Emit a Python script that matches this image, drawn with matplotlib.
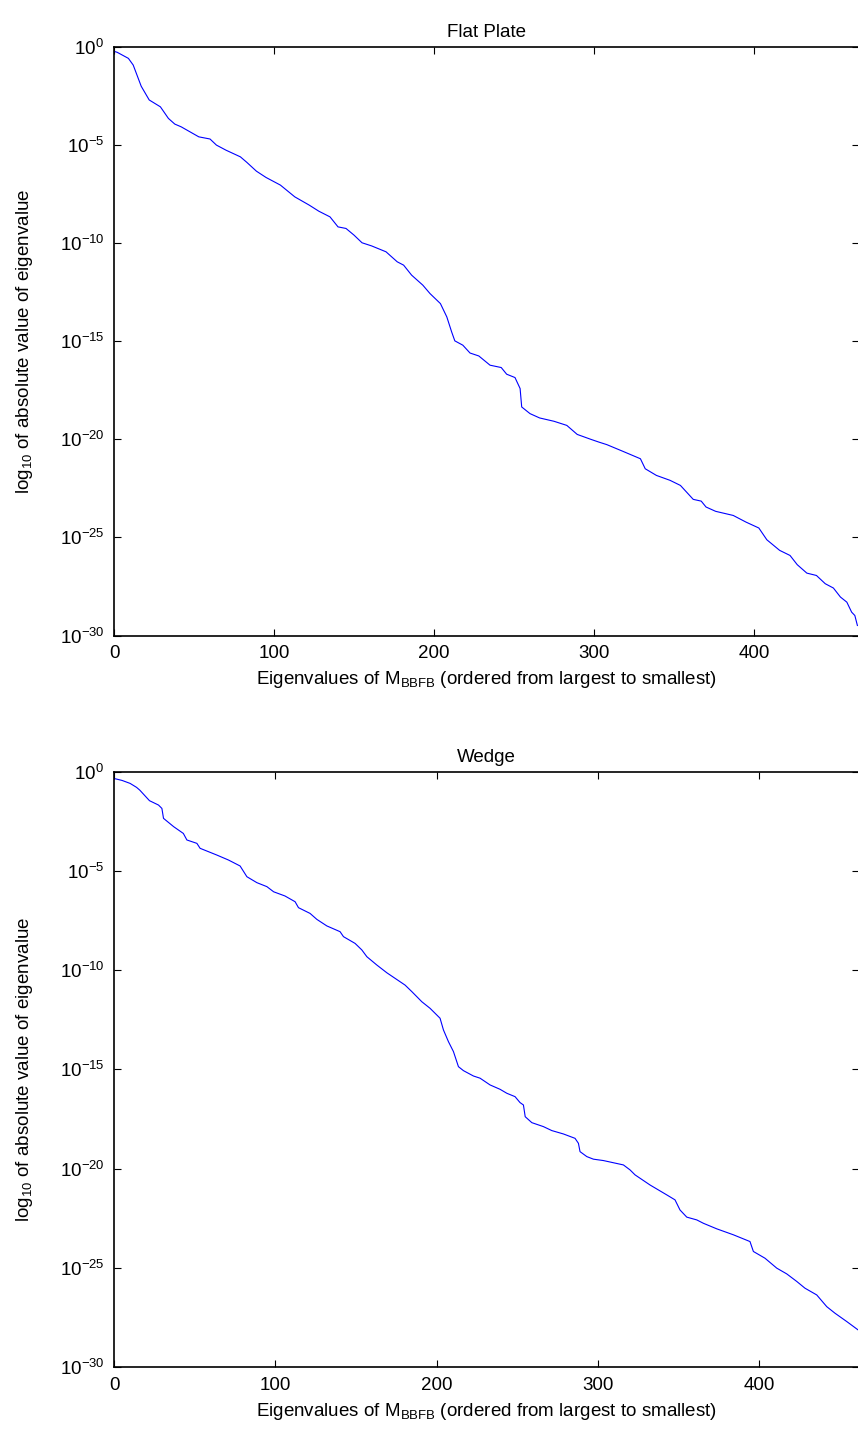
import numpy as np
import matplotlib
matplotlib.use("Agg")
import matplotlib.pyplot as plt
from matplotlib.ticker import FixedLocator, NullLocator, LogFormatterMathtext

plt.rcParams['font.family'] = ['Liberation Sans', 'DejaVu Sans']
plt.rcParams['mathtext.fontset'] = 'custom'
plt.rcParams['mathtext.rm'] = 'Liberation Sans'
plt.rcParams['mathtext.it'] = 'Liberation Sans'
plt.rcParams['mathtext.default'] = 'regular'

# eigenvalue index vs log10 |eigenvalue|, flat plate case
flat_idx = [0, 2, 9, 12, 17, 22, 29, 34, 38, 42, 53, 60, 64, 70, 79, 83, 89, 95,
            104, 113, 122, 128, 135, 140, 145, 150, 155, 161, 170, 177, 181, 186,
            193, 197.5, 204, 208, 211, 213, 218, 222.5, 228, 235, 242, 245.4, 250.6,
            253.8, 254.8, 260, 266, 275, 283, 289.5, 298, 303, 308, 318, 329, 332,
            339, 347.5, 354, 362, 367, 370, 376, 387, 395, 403, 408, 416, 422.5,
            427, 433, 439, 444.5, 449.6, 454, 458, 461, 463, 464.6]
flat_log = [-0.22, -0.27, -0.58, -0.92, -2.0, -2.7, -3.05, -3.64, -3.93, -4.07,
            -4.58, -4.69, -5.0, -5.26, -5.6, -5.88, -6.33, -6.65, -7.04, -7.64,
            -8.06, -8.37, -8.66, -9.17, -9.25, -9.59, -9.98, -10.14, -10.44,
            -10.95, -11.12, -11.63, -12.14, -12.57, -13.08, -13.76, -14.52,
            -14.98, -15.2, -15.6, -15.75, -16.22, -16.34, -16.68, -16.85, -17.41,
            -18.35, -18.69, -18.91, -19.08, -19.29, -19.75, -20.0, -20.14, -20.27,
            -20.61, -20.99, -21.5, -21.84, -22.09, -22.35, -23.06, -23.15, -23.45,
            -23.67, -23.88, -24.22, -24.52, -25.12, -25.66, -25.92, -26.39, -26.82,
            -26.94, -27.36, -27.58, -28.04, -28.3, -28.81, -28.98, -29.49]

# wedge case
wedge_idx = [0, 5, 10, 14, 16, 22, 27.6, 29.7, 30.7, 37, 43, 45.2, 51.4, 53.4, 58.6,
             63.8, 71, 78.2, 82.4, 88.6, 94.8, 99, 106, 112.3, 114.4, 121.6, 125.8,
             132, 140.2, 142.3, 149.5, 153.7, 156.8, 163, 169.2, 174.3, 180.5, 184.7,
             190.9, 196, 202.2, 204.3, 207.4, 210.5, 213.6, 216.7, 222.9, 227, 233.2,
             239.4, 243.6, 248.7, 251.8, 253.9, 255, 259.1, 266.3, 271.5, 278.7,
             285.9, 288, 289, 293.2, 297.3, 303.5, 315.9, 320, 323.1, 332.4, 342.8,
             347.9, 351, 355.2, 361.4, 365.5, 373.8, 384.1, 394.4, 396.5, 403.7, 411,
             417.2, 423.4, 428.5, 435.8, 442, 447.1, 454.4, 461.4]
wedge_log = [-0.35, -0.45, -0.6, -0.8, -0.94, -1.47, -1.69, -1.86, -2.36, -2.78,
             -3.12, -3.45, -3.62, -3.87, -4.04, -4.21, -4.46, -4.76, -5.3, -5.6,
             -5.8, -6.06, -6.27, -6.56, -6.86, -7.15, -7.45, -7.78, -8.07, -8.32,
             -8.66, -8.99, -9.33, -9.75, -10.14, -10.42, -10.76, -11.09, -11.6,
             -11.93, -12.43, -13.02, -13.61, -14.11, -14.87, -15.07, -15.34, -15.45,
             -15.79, -16.01, -16.21, -16.38, -16.68, -16.8, -17.39, -17.69, -17.89,
             -18.09, -18.26, -18.48, -18.73, -19.15, -19.4, -19.53, -19.6, -19.82,
             -20.07, -20.32, -20.83, -21.33, -21.58, -22.09, -22.45, -22.59, -22.76,
             -23.04, -23.34, -23.68, -24.18, -24.52, -25.02, -25.31, -25.69, -26.03,
             -26.37, -26.96, -27.29, -27.71, -28.13]

decades = [-30, -25, -20, -15, -10, -5, 0]

W, H = 858, 1438
fig = plt.figure(figsize=(W / 100, H / 100), dpi=100)


def px_axes(left, top, right, bottom):
    return fig.add_axes([left / W, 1 - bottom / H, (right - left) / W, (bottom - top) / H])


def draw(ax, idx, logs, title, xmax):
    ax.semilogy(idx, 10.0 ** np.array(logs), color='#0000ff', lw=0.8)
    ax.set_xlim(0, xmax)
    ax.set_ylim(1e-30, 1e0)
    ax.yaxis.set_major_locator(FixedLocator([10.0 ** d for d in decades]))
    ax.yaxis.set_minor_locator(NullLocator())
    ax.yaxis.set_major_formatter(LogFormatterMathtext())
    ax.set_xticks([0, 100, 200, 300, 400])
    ax.tick_params(direction='in', length=5, width=0.8, labelsize=13.5,
                   top=True, right=True, pad=7, colors='black')
    for s in ax.spines.values():
        s.set_linewidth(1.2)
    ax.set_title(title, fontsize=13.5, pad=7)
    ax.set_xlabel('Eigenvalues of M$_{BBFB}$ (ordered from largest to smallest)',
                  fontsize=13.5, labelpad=5)
    ax.set_ylabel('log$_{10}$ of absolute value of eigenvalue', fontsize=13.5,
                  labelpad=18)


ax1 = px_axes(114, 47, 859, 635.5)
draw(ax1, flat_idx, flat_log, 'Flat Plate', 465.6)

ax2 = px_axes(114, 771.5, 859, 1367)
draw(ax2, wedge_idx, wedge_log, 'Wedge', 462)

fig.savefig('out.png', dpi=100)
